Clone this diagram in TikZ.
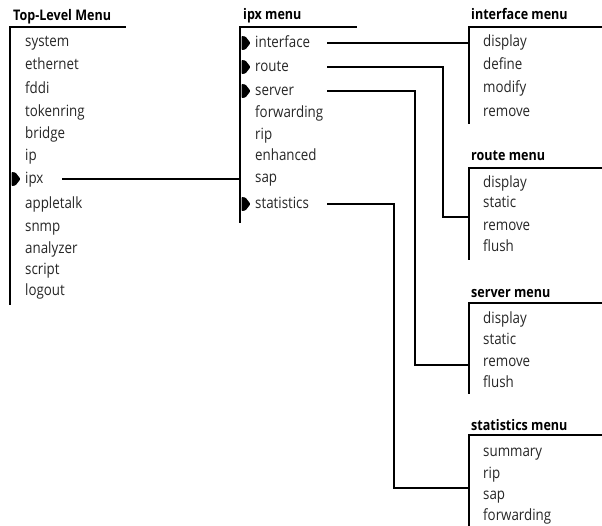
\documentclass[tikz,border=0pt]{standalone}
\usepackage{fontspec}
\setmainfont[FakeStretch=0.86]{Open Sans}
\begin{document}
\begin{tikzpicture}[x=1pt,y=-1pt,
  menutitle/.style={anchor=base west, inner sep=0pt,
    font=\bfseries\fontsize{14.6}{16}\selectfont},
  menuitem/.style={anchor=west, inner sep=0pt, text=black!85,
    text height=11.5pt, text depth=3.5pt,
    font=\fontsize{15.5}{17}\selectfont},
  rule/.style={line width=1.1pt, line cap=rect},
  link/.style={line width=1.1pt},
  subarrow/.pic={\fill[rounded corners=0.9pt] (0,-7) -- (0,7) -- (4,6.5) -- (9,0) -- (4,-6.5) -- cycle;}
]
\useasboundingbox (0,0) rectangle (602,525);

% ---- Top-Level Menu ----
\node[menutitle] (tl-title) at (13,20) {Top-Level Menu};
\draw[rule] (125,27) -- (10,27) -- (10,304);
\foreach \n/\y in {system/42,ethernet/65,fddi/89,tokenring/112,bridge/134,ip/156,
                   ipx/179,appletalk/204,snmp/227,analyzer/249,script/270,logout/291}
  \node[menuitem] (tl-\n) at (25,\y) {\n};
\pic at (11.5,179) {subarrow};
\coordinate (tl-out) at (62,0);

% ---- ipx menu ----
\node[menutitle] (ipx-title) at (243,19) {ipx menu};
\draw[rule] (356,27) -- (240,27) -- (240,222);
\coordinate (ipx-bar) at (240,27);
\foreach \n/\y in {interface/43,route/67,server/91,forwarding/113,rip/135,
                   enhanced/156,sap/178,statistics/204}
  \node[menuitem] (ipx-\n) at (255,\y) {\n};
\foreach \y in {43,67,91,204}
  \pic at (241.5,\y) {subarrow};
\coordinate (ipx-out) at (327,0);

% ---- interface menu ----
\node[menutitle] (if-title) at (471,19) {interface menu};
\draw[rule] (602,27) -- (469,27) -- (469,123);
\foreach \n/\y in {display/42,define/65,modify/88,remove/112}
  \node[menuitem] (if-\n) at (483,\y) {\n};
\coordinate (if-in) at (469,44);

% ---- route menu ----
\node[menutitle] (rt-title) at (471,160) {route menu};
\draw[rule] (602,168) -- (469,168) -- (469,259);
\foreach \n/\y in {display/183,static/203,remove/226,flush/247}
  \node[menuitem] (rt-\n) at (483,\y) {\n};
\coordinate (rt-in) at (469,217);
\coordinate (rt-jog) at (443,0);

% ---- server menu ----
\node[menutitle] (sv-title) at (471,297) {server menu};
\draw[rule] (602,303) -- (469,303) -- (469,393);
\foreach \n/\y in {display/319,static/340,remove/362,flush/383}
  \node[menuitem] (sv-\n) at (483,\y) {\n};
\coordinate (sv-in) at (469,365);
\coordinate (sv-jog) at (415,0);

% ---- statistics menu ----
\node[menutitle] (st-title) at (471,430) {statistics menu};
\draw[rule] (602,435) -- (469,435) -- (469,525);
\foreach \n/\y in {summary/452,rip/474,sap/495,forwarding/516}
  \node[menuitem] (st-\n) at (483,\y) {\n};
\coordinate (st-in) at (469,488);
\coordinate (st-jog) at (394,0);

% ---- connectors between menus ----
\draw[link] (tl-ipx.east -| tl-out) -- (tl-ipx.east -| ipx-bar);
\draw[link] (ipx-interface.east -| ipx-out) -- (ipx-interface.east -| if-in) -- (if-in);
\draw[link] (ipx-route.east -| ipx-out) -| (rt-in -| rt-jog) -- (rt-in);
\draw[link] (ipx-server.east -| ipx-out) -| (sv-in -| sv-jog) -- (sv-in);
\draw[link] (ipx-statistics.east -| ipx-out) -| (st-in -| st-jog) -- (st-in);
\end{tikzpicture}
\end{document}
